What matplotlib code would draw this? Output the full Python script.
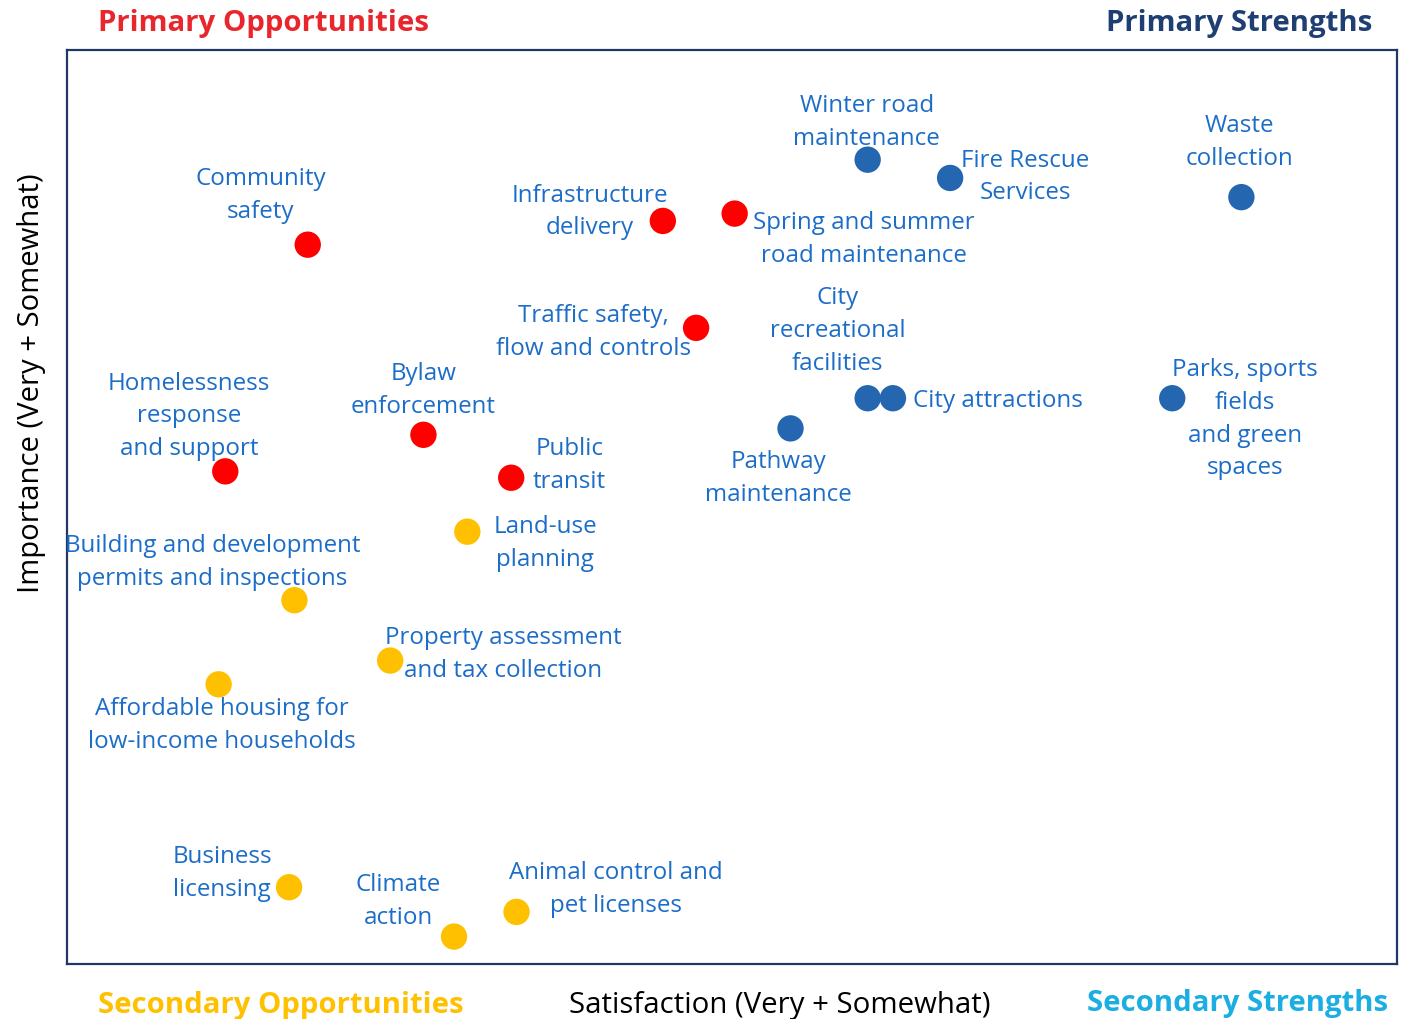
import matplotlib.pyplot as plt

plt.rcParams["font.family"] = ["Open Sans", "DejaVu Sans"]

# satisfaction (x) and importance (y) on a 0-100 scale
services = [
    "Winter road\nmaintenance", "Fire Rescue\nServices", "Waste\ncollection",
    "Infrastructure\ndelivery", "Spring and summer\nroad maintenance", "Community\nsafety",
    "Traffic safety,\nflow and controls", "City\nrecreational\nfacilities", "City attractions",
    "Parks, sports\nfields\nand green\nspaces", "Pathway\nmaintenance",
    "Homelessness\nresponse\nand support", "Bylaw\nenforcement", "Public\ntransit",
    "Land-use\nplanning", "Building and development\npermits and inspections",
    "Property assessment\nand tax collection", "Affordable housing for\nlow-income households",
    "Business\nlicensing", "Climate\naction", "Animal control and\npet licenses",
]
satisfaction = [60.2, 66.4, 88.3, 44.8, 50.2, 18.1, 47.3, 60.2, 62.1, 83.1, 54.4,
                11.9, 26.8, 33.4, 30.1, 17.1, 24.3, 11.4, 16.7, 29.1, 33.8]
importance = [88.0, 86.0, 83.9, 81.3, 82.1, 78.7, 69.6, 61.9, 61.9, 61.9, 58.6,
              53.9, 57.9, 53.2, 47.3, 39.8, 33.2, 30.6, 8.4, 3.0, 5.7]
group = ["S", "S", "S", "O", "O", "O", "O", "S", "S", "S", "S",
         "O", "O", "O", "Q", "Q", "Q", "Q", "Q", "Q", "Q"]

# label offsets in pixels from each dot
offsets = [(-1, 37), (75, 1), (-2, 55), (-73, 9), (129, -26), (-47, 49),
           (-103, -5), (-30, 67), (105, -3), (73, -21), (-12, -50),
           (-36, 55), (0, 44), (58, 12), (78, -12), (-82, 38),
           (113, 6), (3, -41), (-67, 14), (-56, 35), (99, 22)]

dot_colors = {"S": "#2566B0", "O": "#FF0000", "Q": "#FFC000"}
label_color = "#1C6DC8"

fig = plt.figure(figsize=(14.01, 10.19), dpi=100)
ax = fig.add_axes([67 / 1401, 55 / 1019, 1330 / 1401, 914 / 1019])
ax.set_xlim(0, 100)
ax.set_ylim(0, 100)
ax.set_xticks([])
ax.set_yticks([])
for s in ax.spines.values():
    s.set_color("#1F3864")
    s.set_linewidth(1.6)

ax.scatter(satisfaction, importance, s=360, c=[dot_colors[g] for g in group],
           linewidths=0, zorder=3)

for name, x, y, off in zip(services, satisfaction, importance, offsets):
    ax.annotate(name, (x, y), xytext=off, textcoords="offset pixels",
                ha="center", va="center", multialignment="center",
                fontsize=17.4, color=label_color, linespacing=1.49, zorder=4)

fig.text(264 / 1401, 1 - 23 / 1019, "Primary Opportunities", ha="center", va="center",
         fontsize=21.2, fontweight="bold", color="#E8262C")
fig.text(1239 / 1401, 1 - 23 / 1019, "Primary Strengths", ha="center", va="center",
         fontsize=21.2, fontweight="bold", color="#1F3F73")
fig.text(281 / 1401, 1 - 1005 / 1019, "Secondary Opportunities", ha="center", va="center",
         fontsize=21.1, fontweight="bold", color="#FFC000")
fig.text(1238 / 1401, 1 - 1003 / 1019, "Secondary Strengths", ha="center", va="center",
         fontsize=21.1, fontweight="bold", color="#1AAEE2")
fig.text(780 / 1401, 1 - 1005 / 1019, "Satisfaction (Very + Somewhat)", ha="center", va="center",
         fontsize=21.2, color="black")
fig.text(32 / 1401, 1 - 383 / 1019, "Importance (Very + Somewhat)", ha="center", va="center",
         fontsize=21.1, color="black", rotation=90)

fig.savefig("out.png", dpi=100)
